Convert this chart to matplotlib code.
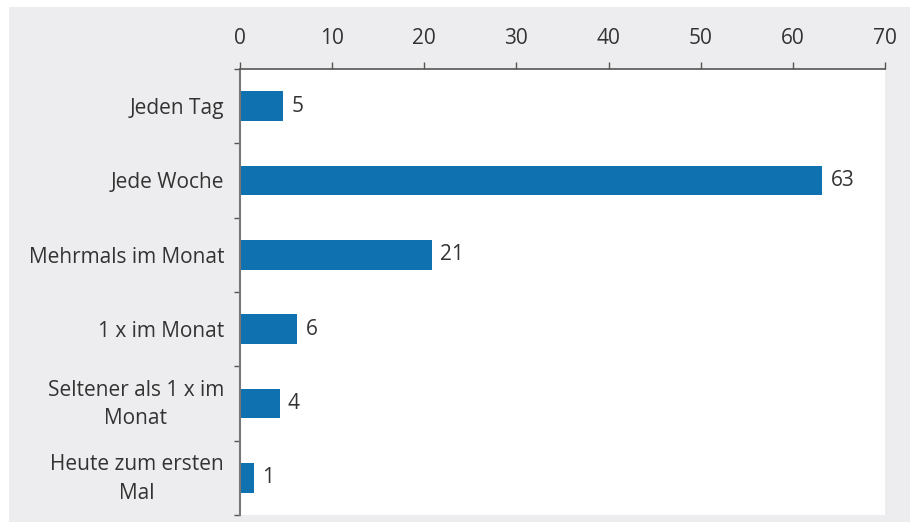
import matplotlib.pyplot as plt
from matplotlib.patches import Rectangle
import matplotlib.transforms as mtransforms
import numpy as np

categories = ["Jeden Tag", "Jede Woche", "Mehrmals im Monat", "1 x im Monat",
              "Seltener als 1 x im\nMonat", "Heute zum ersten\nMal"]
values = [4.7, 63.2, 20.8, 6.2, 4.3, 1.5]
value_labels = ["5", "63", "21", "6", "4", "1"]
xticks = [0, 10, 20, 30, 40, 50, 60, 70]

plt.rcParams['font.family'] = ['Open Sans', 'DejaVu Sans']
FS = 15
TXT = '#333333'
W, H = 910, 522
fig = plt.figure(figsize=(W/100, H/100), dpi=100, facecolor='white')
fig.patches.append(Rectangle((9/W, 0), 1 - 9/W, 1 - 7/H, transform=fig.transFigure,
                             facecolor='#ededef', edgecolor='none', zorder=-10))

ax = fig.add_axes([240/W, 1 - 515/H, (885-240)/W, (515-69)/H])
ax.set_facecolor('white')
y = np.arange(len(categories))
ax.barh(y, values, height=0.40, color='#1071b0')
for yi, v, lab in zip(y, values, value_labels):
    ax.annotate(lab, (v, yi), xytext=(6, 0), textcoords='offset points',
                va='center', ha='left', fontsize=FS, color=TXT)

ax.set_xlim(0, 70)
ax.set_ylim(len(categories) - 0.5, -0.5)
ax.xaxis.tick_top()
ax.set_xticks(xticks)
ax.set_xticklabels([str(t) for t in xticks], fontsize=FS, color=TXT)
ax.tick_params(axis='x', which='major', direction='out', length=5, width=1, color='#555555', pad=9.5)

ax.set_yticks(y)
ax.set_yticklabels(categories, fontsize=FS, color=TXT, multialignment='center', linespacing=1.45)
ax.tick_params(axis='y', which='major', length=0, pad=11.5)
ax.set_yticks(np.arange(len(categories) + 1) - 0.5, minor=True)
ax.tick_params(axis='y', which='minor', direction='out', length=4.5, width=1, color='#555555')

shift = mtransforms.ScaledTranslation(0, 3.5/72, fig.dpi_scale_trans)
for lbl in ax.get_yticklabels():
    if '\n' in lbl.get_text():
        lbl.set_transform(lbl.get_transform() + shift)

for s in ['right', 'bottom']:
    ax.spines[s].set_visible(False)
ax.spines['top'].set_color('#555555')
ax.spines['top'].set_linewidth(1.2)
ax.spines['left'].set_color('#777777')
ax.spines['left'].set_linewidth(1.5)

fig.savefig('out.png', dpi=100, facecolor='white')
